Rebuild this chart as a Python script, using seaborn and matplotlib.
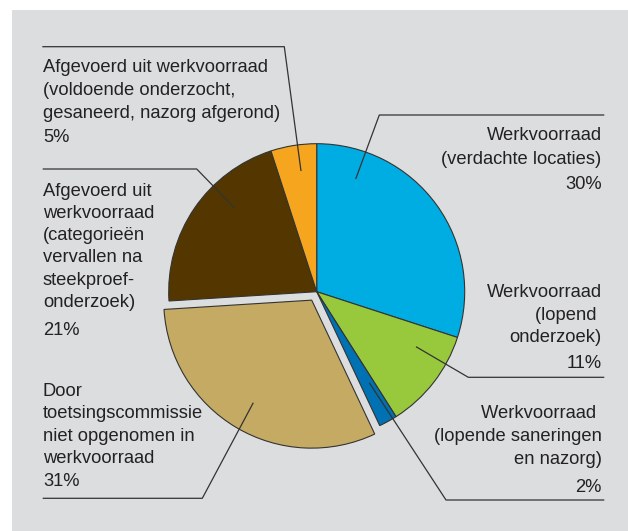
import matplotlib
matplotlib.use("Agg")
import matplotlib.pyplot as plt
import seaborn as sns
from matplotlib.patches import Rectangle

# ---------------- data ----------------
categories = [
    "Werkvoorraad\n(verdachte locaties)",
    "Werkvoorraad\n(lopend \nonderzoek)",
    "Werkvoorraad \n(lopende saneringen\nen nazorg)",
    "Door\ntoetsingscommissie\nniet opgenomen in\nwerkvoorraad",
    "Afgevoerd uit\nwerkvoorraad\n(categorieën\nvervallen na\nsteekproef-\nonderzoek)",
    "Afgevoerd uit werkvoorraad\n(voldoende onderzocht,\ngesaneerd, nazorg afgerond)",
]
shares = [30, 11, 2, 31, 21, 5]
colors = ["#00ade3", "#98c93c", "#0071b2", "#c5aa63", "#543700", "#f6a51e"]
exploded = [0, 0, 0, 1, 0, 0]

# ---------------- layout (pixel coordinates, y downwards) ----------------
W, H = 628, 531
center_px = (316.7, 291.7)
radius_px = 148
explode_px = 9.8

label_layout = [
    dict(x=601.7, ha="right", baselines=[140, 163.5, 189]),
    dict(x=601.7, ha="right", baselines=[296.7, 319.5, 342, 368.3]),
    dict(x=601.7, ha="right", baselines=[418.3, 441, 463.5, 491.7]),
    dict(x=43, ha="left", baselines=[395.7, 418.3, 440.7, 463.3, 486]),
    dict(x=43, ha="left", baselines=[195.5, 217.5, 240, 262, 285, 307, 335]),
    dict(x=43, ha="left", baselines=[71.7, 95, 118.5, 142]),
]
leaders = [
    [(355.7, 179), (379.3, 115), (604.3, 115)],
    [(416, 346.7), (468.3, 377.3), (604.3, 377.3)],
    [(369.3, 382.7), (446, 500), (604.3, 500)],
    [(253.3, 402.7), (202.3, 498.3), (42.7, 498.3)],
    [(234.3, 207.7), (196.7, 169), (42.7, 169)],
    [(301, 171), (284.3, 46.7), (42.3, 46.7)],
]

sns.set_theme(style="white")
plt.rcParams["font.family"] = ["Liberation Sans", "DejaVu Sans"]

fig = plt.figure(figsize=(W / 100, H / 100), dpi=100)
fig.patch.set_facecolor("white")

ax = fig.add_axes([0, 0, 1, 1])
ax.set_facecolor("none")

ax.pie(shares, colors=colors, startangle=90, counterclock=False,
       center=(center_px[0], H - center_px[1]), radius=radius_px,
       explode=[e * explode_px for e in exploded], frame=True,
       wedgeprops=dict(edgecolor="#333333", linewidth=0.8))
ax.set_xlim(0, W)
ax.set_ylim(0, H)
ax.set_aspect("equal")
ax.axis("off")

ax.add_patch(Rectangle((12, 0), W - 12, H - 10, facecolor="#dcdddf",
                       edgecolor="none", zorder=-10, clip_on=False))

for pts in leaders:
    xs = [p[0] for p in pts]
    ys = [H - p[1] for p in pts]
    ax.plot(xs, ys, color="#333333", lw=0.9, solid_capstyle="butt", zorder=5)

for cat, val, lay in zip(categories, shares, label_layout):
    lines = cat.split("\n") + [f"{val}%"]
    for line, b in zip(lines, lay["baselines"]):
        ax.text(lay["x"], H - b, line, ha=lay["ha"], va="baseline",
                fontsize=13.25, color="#222222")

fig.savefig("out.png", dpi=100)
